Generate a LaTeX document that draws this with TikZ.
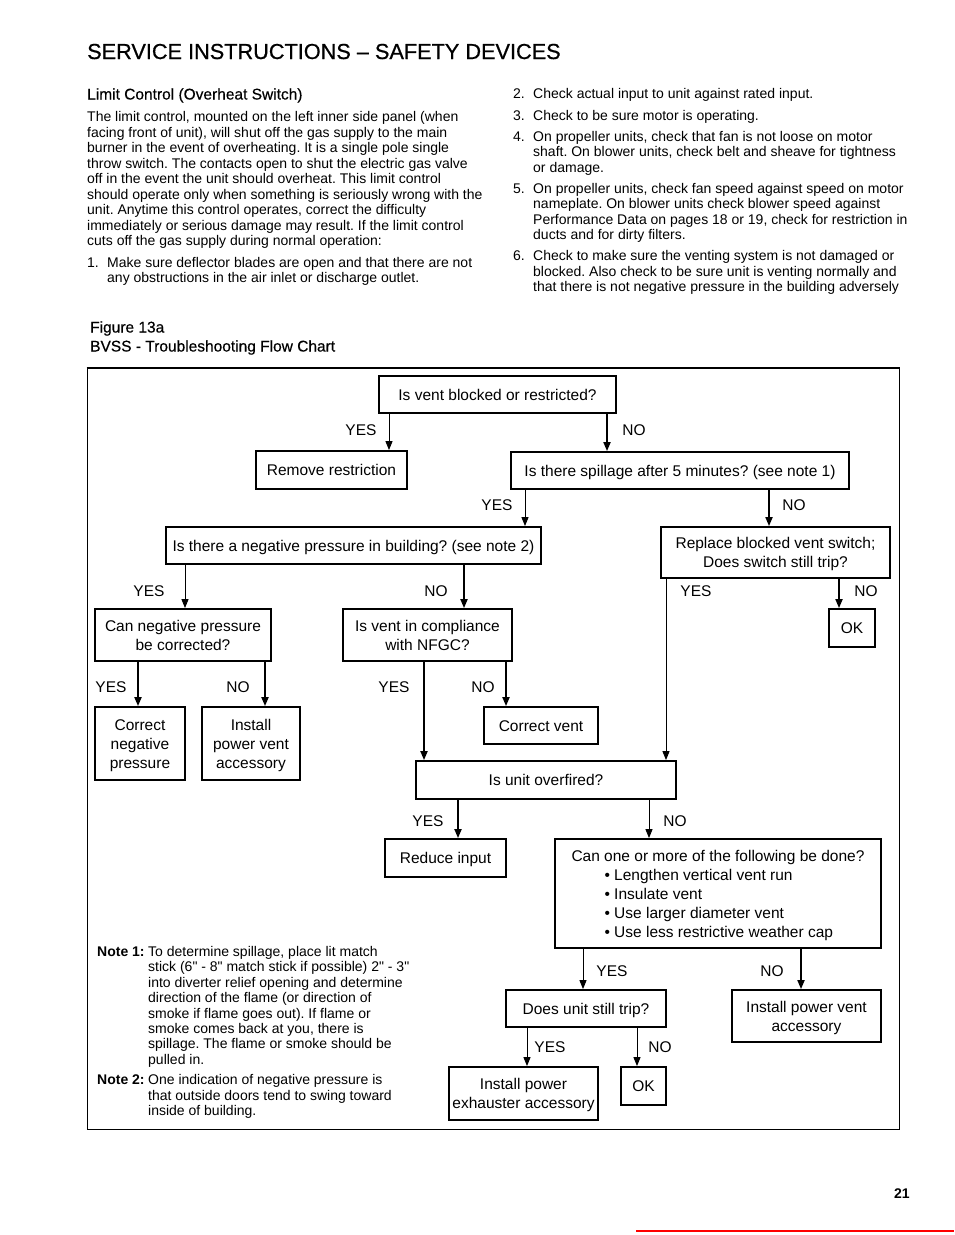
\documentclass[tikz,border=0pt]{standalone}
\usepackage{fontspec}
\setmainfont{Liberation Sans}
\newfontfamily\plainf{Liberation Sans}
\usetikzlibrary{arrows.meta}
\frenchspacing
\newcommand\fbody{\fontsize{14}{15.5}\selectfont}
\newcommand\fchart{\fontsize{15.5}{19}\selectfont}
\newcommand\bx[1]{\raisebox{-2pt}[\height][\depth]{\begin{tabular}{@{}c@{}}#1\end{tabular}}}
\newcommand\bxl[1]{\raisebox{-2pt}[\height][\depth]{\begin{tabular}{@{}l@{}}#1\end{tabular}}}
\newcommand\dq{{\plainf"}}
\begin{document}
\begin{tikzpicture}[x=1pt,y=-1pt,
  box/.style={draw, line width=1.8pt, inner sep=1pt, font=\fchart},
  thk/.style={line width=1.8pt, -{Triangle[length=9pt,width=7pt]}},
  thn/.style={line width=1pt, -{Triangle[length=9pt,width=7pt]}},
  lab/.style={font=\fchart, inner sep=0},
  txt/.style={anchor=base west, inner sep=0, font=\fbody},
  hd/.style={anchor=base west, inner sep=0, font=\fontsize{15.5}{18}\selectfont\addfontfeature{FakeBold=0.4}},
]
\useasboundingbox (0,0) rectangle (954,1235);
% title
\node[anchor=base west, inner sep=0, font=\fontsize{21.7}{24}\selectfont\addfontfeature{FakeBold=0.7}] (title) at (87,59) {SERVICE INSTRUCTIONS – SAFETY DEVICES};
\node[hd] (head) at (87,99.5) {Limit Control (Overheat Switch)};
% left column
\foreach \t [count=\i from 0] in {
 {The limit control, mounted on the left inner side panel (when},
 {facing front of unit), will shut off the gas supply to the main},
 {burner in the event of overheating. It is a single pole single},
 {throw switch. The contacts open to shut the electric gas valve},
 {off in the event the unit should overheat. This limit control},
 {should operate only when something is seriously wrong with the},
 {unit. Anytime this control operates, correct the difficulty},
 {immediately or serious damage may result. If the limit control},
 {cuts off the gas supply during normal operation:}}
 \node[txt] at (87,121.5+15.5*\i) {\t};
\node[txt] (n1) at (87,267) {1.};
\node[txt] at (107,267) {Make sure deflector blades are open and that there are not};
\node[txt] at (107,282.5) {any obstructions in the air inlet or discharge outlet.};
% right column
\node[txt] (n2) at (513,98.5) {2.};
\node[txt] at (533,98.5) {Check actual input to unit against rated input.};
\node[txt] (n3) at (513,120) {3.};
\node[txt] at (533,120) {Check to be sure motor is operating.};
\node[txt] (n4) at (513,141) {4.};
\node[txt] at (533,141) {On propeller units, check that fan is not loose on motor};
\node[txt] at (533,156.5) {shaft. On blower units, check belt and sheave for tightness};
\node[txt] at (533,172) {or damage.};
\node[txt] (n5) at (513,193) {5.};
\node[txt] at (533,193) {On propeller units, check fan speed against speed on motor};
\node[txt] at (533,208.5) {nameplate. On blower units check blower speed against};
\node[txt] at (533,224) {Performance Data on pages 18 or 19, check for restriction in};
\node[txt] at (533,239.5) {ducts and for dirty filters.};
\node[txt] (n6) at (513,260.5) {6.};
\node[txt] at (533,260.5) {Check to make sure the venting system is not damaged or};
\node[txt] at (533,276) {blocked. Also check to be sure unit is venting normally and};
\node[txt] at (533,291.5) {that there is not negative pressure in the building adversely};
% figure caption
\node[hd] (fig) at (90,332.5) {Figure 13a};
\node[hd] (cap) at (90,351.5) {BVSS - Troubleshooting Flow Chart};
% frame
\draw[line width=1pt] (87,368) rectangle (899,1129);
\draw[line width=2pt] (86.5,368) -- (899.5,368);
% boxes
\node[box, minimum width=237pt, minimum height=37pt] (q1) at (497.5,394.5) {\bx{Is vent blocked or restricted?}};
\node[box, minimum width=151pt, minimum height=38pt] (q2) at (331.5,470) {\bx{Remove restriction}};
\node[box, minimum width=338pt, minimum height=37pt] (q3) at (680,470.5) {\bx{Is there spillage after 5 minutes? (see note 1)}};
\node[box, minimum width=375pt, minimum height=37pt] (q4) at (353.5,545.5) {\bx{Is there a negative pressure in building? (see note 2)}};
\node[box, minimum width=229pt, minimum height=51pt] (q5) at (775.5,552.5) {\bx{Replace blocked vent switch;\\Does switch still trip?}};
\node[box, minimum width=176pt, minimum height=52pt] (q6) at (183,635) {\bx{Can negative pressure\\be corrected?}};
\node[box, minimum width=169pt, minimum height=52pt] (q7) at (427.5,635) {\bx{Is vent in compliance\\with NFGC?}};
\node[box, minimum width=46pt, minimum height=38pt] (q8) at (852,628) {\bx{OK}};
\node[box, minimum width=90pt, minimum height=73pt] (q9) at (140,743.5) {\bx{Correct\\negative\\pressure}};
\node[box, minimum width=98pt, minimum height=73pt] (q10) at (251,743.5) {\bx{Install\\power vent\\accessory}};
\node[box, minimum width=114pt, minimum height=37pt] (q11) at (541,725.5) {\bx{Correct vent}};
\node[box, minimum width=260pt, minimum height=38pt] (q12) at (546,780) {\bx{Is unit overfired?}};
\node[box, minimum width=121pt, minimum height=38pt] (q13) at (445.5,858) {\bx{Reduce input}};
\node[box, minimum width=326pt, minimum height=109pt] (q14) at (718,893.5) {\bxl{Can one or more of the following be done?\\
 \hspace*{33pt}• Lengthen vertical vent run\\
 \hspace*{33pt}• Insulate vent\\
 \hspace*{33pt}• Use larger diameter vent\\
 \hspace*{33pt}• Use less restrictive weather cap}};
\node[box, minimum width=160pt, minimum height=37pt] (q15) at (586,1008.5) {\bx{Does unit still trip?}};
\node[box, minimum width=149pt, minimum height=52pt] (q16) at (806.5,1016) {\bx{Install power vent\\accessory}};
\node[box, minimum width=149pt, minimum height=53pt] (q17) at (523.5,1093.5) {\bx{Install power\\exhauster accessory}};
\node[box, minimum width=45pt, minimum height=38pt] (q18) at (643.5,1086) {\bx{OK}};
% connectors
\draw[thn] (q1.south -| 389,0) -- (q2.north -| 389,0);
\draw[thk] (q1.south -| 607,0) -- (q3.north -| 607,0);
\draw[thn] (q3.south -| 525,0) -- (q4.north -| 525,0);
\draw[thk] (q3.south -| 769,0) -- (q5.north -| 769,0);
\draw[thn] (q4.south -| 185,0) -- (q6.north -| 185,0);
\draw[thk] (q4.south -| 464,0) -- (q7.north -| 464,0);
\draw[thn] (q5.south -| 666,0) -- (q12.north -| 666,0);
\draw[thk] (q5.south -| 839,0) -- (q8.north -| 839,0);
\draw[thk] (q6.south -| 138,0) -- (q9.north -| 138,0);
\draw[thk] (q6.south -| 265,0) -- (q10.north -| 265,0);
\draw[thk] (q7.south -| 424,0) -- (q12.north -| 424,0);
\draw[thk] (q7.south -| 506,0) -- (q11.north -| 506,0);
\draw[thk] (q12.south -| 458,0) -- (q13.north -| 458,0);
\draw[thn] (q12.south -| 649,0) -- (q14.north -| 649,0);
\draw[thn] (q14.south -| 583,0) -- (q15.north -| 583,0);
\draw[thk] (q14.south -| 801,0) -- (q16.north -| 801,0);
\draw[thn] (q15.south -| 527,0) -- (q17.north -| 527,0);
\draw[thn] (q15.south -| 637,0) -- (q18.north -| 637,0);
% labels
\node[lab] (l1) at (361,430) {YES};
\node[lab] (l2) at (634,430) {NO};
\node[lab] (l3) at (497,505) {YES};
\node[lab] (l4) at (794,505) {NO};
\node[lab] (l5) at (149,591) {YES};
\node[lab] (l6) at (436,591) {NO};
\node[lab] (l7) at (696,591) {YES};
\node[lab] (l8) at (866,591) {NO};
\node[lab] (l9) at (111,687) {YES};
\node[lab] (l10) at (238,687) {NO};
\node[lab] (l11) at (394,687) {YES};
\node[lab] (l12) at (483,687) {NO};
\node[lab] (l13) at (428,821) {YES};
\node[lab] (l14) at (675,821) {NO};
\node[lab] (l15) at (612,971) {YES};
\node[lab] (l16) at (772,971) {NO};
\node[lab] (l17) at (550,1047) {YES};
\node[lab] (l18) at (660,1047) {NO};
% notes
\node[txt, font=\fbody\bfseries] (note1) at (97,956.5) {Note 1:};
\foreach \t [count=\i from 0] in {
 {To determine spillage, place lit match},
 {stick (6\dq{} - 8\dq{} match stick if possible) 2\dq{} - 3\dq},
 {into diverter relief opening and determine},
 {direction of the flame (or direction of},
 {smoke if flame goes out). If flame or},
 {smoke comes back at you, there is},
 {spillage. The flame or smoke should be},
 {pulled in.}}
 \node[txt] at (148,956.5+15.4*\i) {\t};
\node[txt, font=\fbody\bfseries] (note2) at (97,1084.5) {Note 2:};
\node[txt] at (148,1084.5) {One indication of negative pressure is};
\node[txt] at (148,1100) {that outside doors tend to swing toward};
\node[txt] at (148,1115.5) {inside of building.};
% page number and rule
\node[txt, font=\fbody\bfseries] (page) at (894,1198) {21};
\draw[red, line width=2pt] (636,1231) -- (954,1231);
\end{tikzpicture}
\end{document}
